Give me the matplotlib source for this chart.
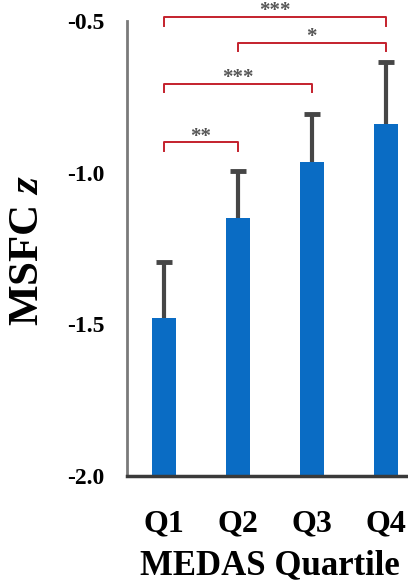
import numpy as np
import matplotlib
matplotlib.use('Agg')
import matplotlib.pyplot as plt

# MSFC z-score by MEDAS quartile, mean with upper error bar
quartiles = ['Q1', 'Q2', 'Q3', 'Q4']
msfc_mean = [-1.48, -1.15, -0.965, -0.84]
msfc_err = [0.185, 0.155, 0.16, 0.205]

y_ticks = [-2.0, -1.5, -1.0, -0.5]
y_tick_labels = ['-2.0', '-1.5', '-1.0', '-0.5']

# pairwise comparisons: (first, second, bracket level, stars)
comparisons = [
    (0, 1, -0.90, '**'),
    (0, 2, -0.707, '***'),
    (1, 3, -0.572, '*'),
    (0, 3, -0.487, '***'),
]

plt.rcParams['font.family'] = 'Liberation Serif'
plt.rcParams['mathtext.fontset'] = 'custom'
plt.rcParams['mathtext.it'] = 'Liberation Serif:italic:bold'

fig = plt.figure(figsize=(4.08, 5.88), dpi=100)
ax = fig.add_axes([0.311, 0.1905, 0.689, 0.7738])

base = -2.0
x = np.arange(len(quartiles))
heights = [m - base for m in msfc_mean]
ax.bar(x, heights, bottom=base, width=0.32, color='#0a6cc4', zorder=2)

# upper-only error bars: stem plus a single cap
err_top = [m + e for m, e in zip(msfc_mean, msfc_err)]
ax.vlines(x, msfc_mean, err_top, color='#464646', lw=3, zorder=3)
ax.plot(x, err_top, ls='none', marker='_', ms=12, mew=3.5,
        color='#464646', zorder=3)

ax.set_xlim(-0.5, 3.3)
ax.set_ylim(-2.0, -0.5)
ax.set_yticks(y_ticks)
ax.set_yticklabels(y_tick_labels, fontsize=17, fontweight='bold')
ax.set_xticks(x)
ax.set_xticklabels(quartiles, fontsize=23, fontweight='bold')
ax.tick_params(axis='y', length=0, pad=16)
ax.tick_params(axis='x', length=0, pad=24)

for side in ['top', 'right']:
    ax.spines[side].set_visible(False)
ax.spines['left'].set_color('#7a7a7a')
ax.spines['left'].set_linewidth(2)
ax.spines['bottom'].set_color('#3a3a3a')
ax.spines['bottom'].set_linewidth(2.5)

# significance brackets
drop = 0.028
for a, b, lvl, stars in comparisons:
    ax.plot([a, a, b, b], [lvl - drop, lvl, lvl, lvl - drop],
            color='#c4202c', lw=1.4, clip_on=False, zorder=4)
    ax.text((a + b) / 2, lvl + 0.002, stars, ha='center', va='baseline',
            fontsize=15, fontweight='bold', color='#555555', clip_on=False)

fig.text(28 / 408, 1 - 250 / 588, 'MSFC $z$', rotation=90, ha='center',
         va='center', fontsize=31, fontweight='bold')
fig.text(270 / 408, 1 - 566 / 588, 'MEDAS Quartile', ha='center',
         va='center', fontsize=25, fontweight='bold')

fig.savefig('out.png', dpi=100, facecolor='white')
